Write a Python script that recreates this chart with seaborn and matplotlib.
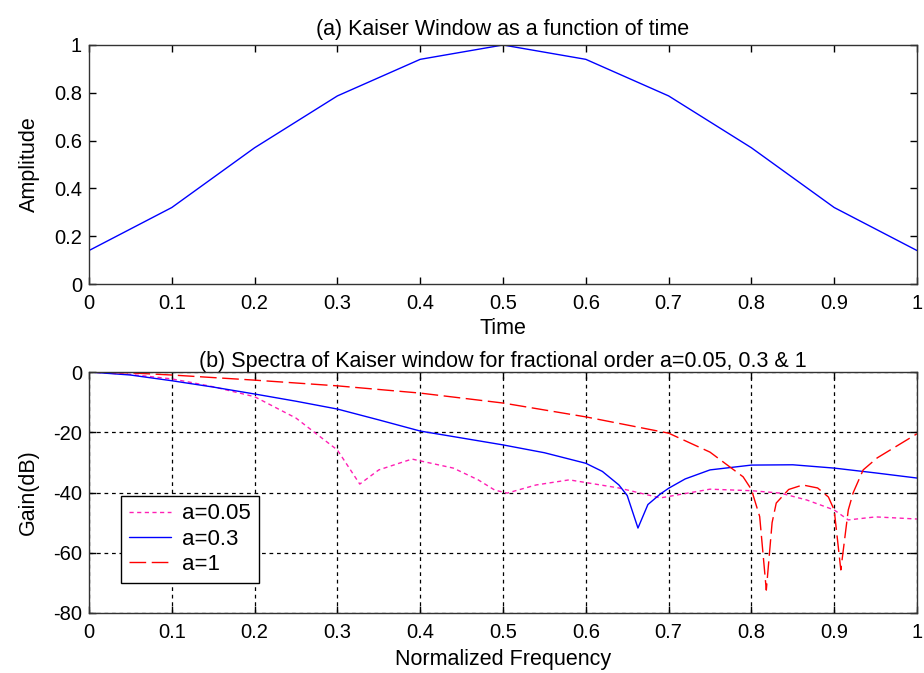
import numpy as np
import pandas as pd
import matplotlib
matplotlib.use("Agg")
import matplotlib.pyplot as plt
import seaborn as sns

# ---- data ----
time = [0.0, 0.1, 0.2, 0.3, 0.4, 0.5, 0.6, 0.7, 0.8, 0.9, 1.0]
amplitude = [0.14, 0.32, 0.57, 0.787, 0.94, 1.0, 0.94, 0.787, 0.57, 0.32, 0.14]

freq_a005 = [0, 0.05, 0.1, 0.122, 0.15, 0.2, 0.25, 0.3, 0.327, 0.35, 0.39, 0.44, 0.47, 0.49,
             0.505, 0.54, 0.58, 0.64, 0.69, 0.75, 0.8, 0.835, 0.867, 0.9, 0.917, 0.95, 1.0]
gain_a005 = [0, -0.8, -2.3, -3.4, -4.9, -8.2, -15.3, -25.9, -37.2, -32.5, -28.9, -31.9, -35.8, -39.2,
             -40.2, -37.5, -35.8, -38.5, -41.8, -38.9, -39.4, -40.2, -42.5, -45.8, -49.1, -48.1, -48.8]

freq_a03 = [0, 0.05, 0.1, 0.15, 0.2, 0.25, 0.3, 0.35, 0.4, 0.45, 0.5, 0.55, 0.6, 0.62, 0.64,
            0.65, 0.663, 0.675, 0.69, 0.7, 0.72, 0.75, 0.8, 0.85, 0.9, 0.95, 1.0]
gain_a03 = [0, -1, -2.9, -5, -7.3, -9.7, -12.3, -15.9, -19.6, -21.9, -24.2, -26.8, -30.3, -33, -37.5,
            -41, -51.8, -44, -40.5, -38.6, -35.5, -32.5, -30.9, -30.8, -31.9, -33.5, -35.2]

freq_a1 = [0, 0.05, 0.1, 0.2, 0.3, 0.4, 0.5, 0.6, 0.7, 0.75, 0.79, 0.80, 0.81, 0.818, 0.825,
           0.83, 0.845, 0.862, 0.88, 0.893, 0.9, 0.908, 0.917, 0.923, 0.935, 0.952, 0.97, 1.0]
gain_a1 = [0, -0.3, -1, -2.7, -4.6, -7, -10.3, -14.9, -20.3, -26.6, -34.8, -39, -48, -72.4, -50,
           -43.5, -39, -37.5, -38.5, -41.5, -45.8, -65.7, -45.8, -40, -32.5, -28.5, -25.5, -20.5]

xticks = [0, 0.1, 0.2, 0.3, 0.4, 0.5, 0.6, 0.7, 0.8, 0.9, 1]
xticklabels = ["0", "0.1", "0.2", "0.3", "0.4", "0.5", "0.6", "0.7", "0.8", "0.9", "1"]
yticks_top = [0, 0.2, 0.4, 0.6, 0.8, 1]
yticklabels_top = ["0", "0.2", "0.4", "0.6", "0.8", "1"]
yticks_bot = [-80, -60, -40, -20, 0]
yticklabels_bot = ["-80", "-60", "-40", "-20", "0"]

# ---- style ----
sns.set_style("ticks")
plt.rcParams["font.family"] = ["Liberation Sans", "DejaVu Sans"]
plt.rcParams["xtick.direction"] = "in"
plt.rcParams["ytick.direction"] = "in"
plt.rcParams["xtick.top"] = True
plt.rcParams["ytick.right"] = True
plt.rcParams["text.color"] = "black"
plt.rcParams["axes.labelcolor"] = "black"
plt.rcParams["xtick.color"] = "black"
plt.rcParams["ytick.color"] = "black"

fig = plt.figure(figsize=(9.24, 6.73), dpi=100)
W, H = 924, 673
ax1 = fig.add_axes([89 / W, 1 - 284 / H, (917 - 89) / W, (284 - 45) / H])
ax2 = fig.add_axes([89 / W, 1 - 613 / H, (917 - 89) / W, (613 - 372) / H])

fs_tick = 14.5
fs_lab = 15.5

# top panel
sns.lineplot(x=time, y=amplitude, ax=ax1, color="#0000ff", linewidth=1.0)
ax1.set_xlim(0, 1)
ax1.set_ylim(0, 1)
ax1.set_xticks(xticks)
ax1.set_xticklabels(xticklabels, fontsize=fs_tick)
ax1.set_yticks(yticks_top)
ax1.set_yticklabels(yticklabels_top, fontsize=fs_tick)
ax1.set_xlabel("Time", fontsize=fs_lab, labelpad=4)
ax1.set_ylabel("Amplitude", fontsize=fs_lab, labelpad=10)
ax1.set_title("(a) Kaiser Window as a function of time", fontsize=fs_lab, pad=7)

# bottom panel
sns.lineplot(x=freq_a005, y=gain_a005, ax=ax2, color="#ff1fb4", linewidth=1.0,
             linestyle=(0, (3, 2.5)), label="a=0.05")
sns.lineplot(x=freq_a03, y=gain_a03, ax=ax2, color="#0000ff", linewidth=1.0,
             label="a=0.3")
sns.lineplot(x=freq_a1, y=gain_a1, ax=ax2, color="#ff0000", linewidth=1.0,
             linestyle=(0, (12, 4)), label="a=1")
ax2.set_xlim(0, 1)
ax2.set_ylim(-80, 0)
ax2.set_xticks(xticks)
ax2.set_xticklabels(xticklabels, fontsize=fs_tick)
ax2.set_yticks(yticks_bot)
ax2.set_yticklabels(yticklabels_bot, fontsize=fs_tick)
ax2.grid(True, color="black", linestyle=(0, (3, 3)), linewidth=0.9)
ax2.set_xlabel("Normalized Frequency", fontsize=fs_lab, labelpad=5)
ax2.set_ylabel("Gain(dB)", fontsize=fs_lab, labelpad=10)
ax2.set_title("(b) Spectra of Kaiser window for fractional order a=0.05, 0.3 & 1",
              fontsize=fs_lab, pad=2)
leg = ax2.legend(loc="lower left", bbox_to_anchor=(32 / 828, 30 / 241), borderaxespad=0,
                 fontsize=16, fancybox=False, framealpha=1, edgecolor="black",
                 handlelength=1.9, handletextpad=0.5, labelspacing=0.2, borderpad=0.35)
leg.get_frame().set_linewidth(1.0)

for ax in (ax1, ax2):
    for s in ax.spines.values():
        s.set_color("#333333")
        s.set_linewidth(1.0)
    ax.tick_params(axis="x", length=5, width=1.0, colors="black", pad=7)
    ax.tick_params(axis="y", length=5, width=1.0, colors="black", pad=5)

fig.savefig("out.png", dpi=100)
